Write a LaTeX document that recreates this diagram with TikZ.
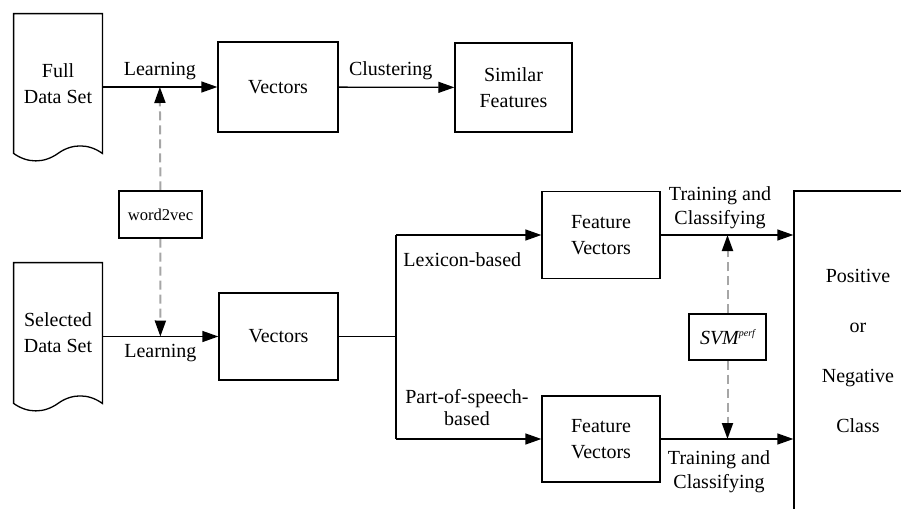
\documentclass[tikz,border=0pt]{standalone}
\usepackage{fontspec}
\setmainfont{Liberation Serif}
\usetikzlibrary{arrows.meta}
\pgfdeclarelayer{background}
\pgfdeclarelayer{foreground}
\pgfsetlayers{background,main,foreground}

\tikzset{
  box/.style={draw,line width=0.65pt,align=center,inner sep=0pt},
  doc/.style={align=center,inner sep=0pt},
  flow/.style={line width=0.65pt,-{Triangle[length=8pt,width=5.5pt]}},
  dflow/.style={gray!70,line width=1pt,dash pattern=on 4.5pt off 2.5pt,-{Triangle[length=8pt,width=5.5pt,color=black]}},
  two/.style={align=center,font=\fontsize{10pt}{12pt}\selectfont}
}
\newcommand{\docoutline}[1]{%
\draw[line width=0.65pt] (#1.north west) -- (#1.north east) -- (#1.south east)
  .. controls +(-7pt,5pt) and +(7pt,5pt) .. (#1.south)
  .. controls +(-7pt,-5pt) and +(7pt,-5pt) .. (#1.south west) -- cycle;}

\begin{document}
\begin{tikzpicture}[x=0.5pt,y=-0.5pt,font=\fontsize{10pt}{13pt}\selectfont]
\useasboundingbox (0,0) rectangle (901,509);
\begin{pgfonlayer}{foreground}
\node[doc,minimum width=44pt,minimum height=69.5pt] (full) at (58,83.5) {Full\\Data Set};
\node[doc,minimum width=44pt,minimum height=70pt] (sel) at (58,333) {Selected\\Data Set};
\docoutline{full}
\docoutline{sel}
\node[box,minimum width=60pt,minimum height=45pt] (vec1) at (278,87) {Vectors};
\node[box,minimum width=58.5pt,minimum height=44.5pt] (sim) at (513.5,87.5) {Similar\\Features};
\node[box,minimum width=41.5pt,minimum height=23.5pt,font=\fontsize{8.3pt}{10pt}\selectfont] (w2v) at (160.5,214.5) {word2vec};
\node[box,minimum width=59.5pt,minimum height=43.5pt] (vec2) at (278.5,336.5) {Vectors};
\node[box,minimum width=59pt,minimum height=43.5pt] (fv1) at (601,235) {Feature\\Vectors};
\node[box,minimum width=59pt,minimum height=43pt] (fv2) at (601,439) {Feature\\Vectors};
\node[box,minimum width=38.5pt,minimum height=23pt] (svm) at (727.5,337) {\itshape SVM\raisebox{4pt}{\fontsize{5pt}{5pt}\selectfont perf}};
\node[box,minimum width=64pt,minimum height=160pt,font=\fontsize{10pt}{12pt}\selectfont] (cls) at (858,351) {Positive\\[13pt]or\\[13pt]Negative\\[13pt]Class};
\end{pgfonlayer}
\coordinate (jn) at (396,336.5);
\begin{pgfonlayer}{background}
\draw[flow] (full.east |- vec1) -- node[above]{Learning} coordinate[pos=.5] (l1) (vec1);
\draw[flow] (vec1) -- node[above,pos=.45]{Clustering} (sim);
\draw[flow] (sel.east |- vec2) -- node[below]{Learning} coordinate[pos=.5] (l2) (vec2);
\draw[dflow] (w2v) -- (l1);
\draw[dflow] (w2v) -- (l2);
\draw[line width=0.65pt] (vec2) -- (jn);
\draw[line width=0.65pt] (jn |- fv1) -- (jn |- fv2);
\draw[flow] (jn |- fv1) -- (fv1);
\draw[flow] (jn |- fv2) -- (fv2);
\draw[flow] (fv1) -- (cls.west |- fv1);
\draw[flow] (fv2) -- (cls.west |- fv2);
\draw[dflow] (svm) -- (svm |- fv1);
\draw[dflow] (svm) -- (svm |- fv2);
\end{pgfonlayer}
\node[anchor=west,inner sep=0pt] (lex) at (403,260) {Lexicon-based};
\node[two,font=\fontsize{10pt}{11pt}\selectfont] (pos) at (467,408) {Part-of-speech-\\based};
\node[two] (tr1) at (720,208) {Training and\\Classifying};
\node[two] (tr2) at (719,472) {Training and\\Classifying};
\end{tikzpicture}
\end{document}
